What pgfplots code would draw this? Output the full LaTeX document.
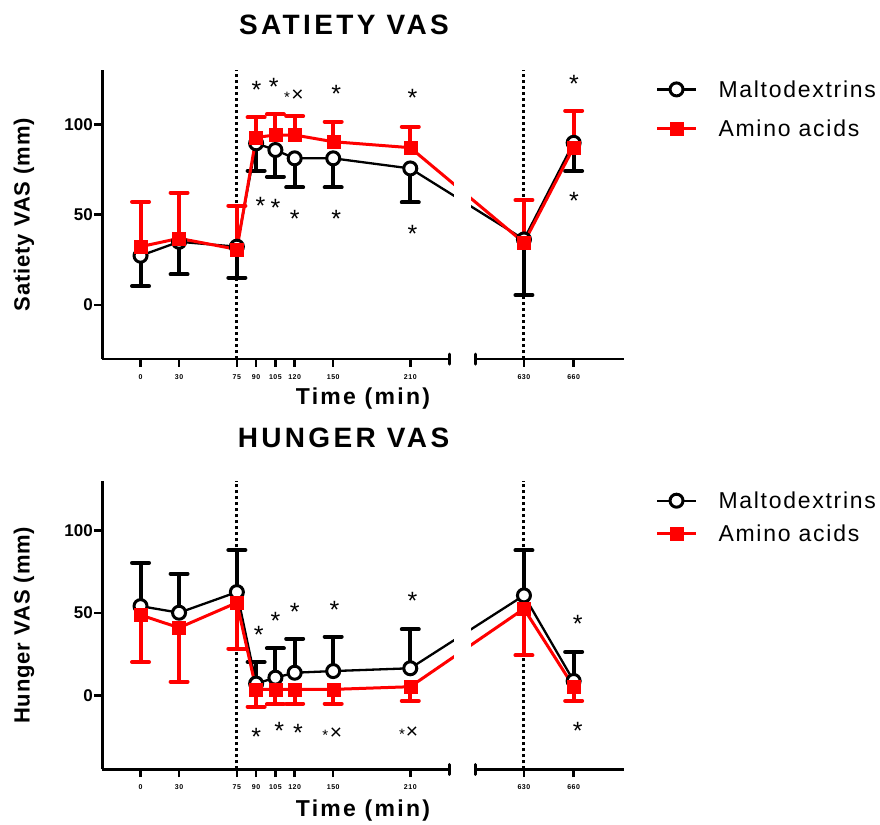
\documentclass[border=0pt]{standalone}
\usepackage{pgfplots}
\pgfplotsset{compat=1.18}
\usepackage{pgfplotstable}
\usepackage{fontspec}
\setmainfont{Liberation Sans}
\newfontfamily\titlefont[LetterSpace=12]{Liberation Sans}
\newfontfamily\xlabfont[LetterSpace=10]{Liberation Sans}
\newfontfamily\legfont[LetterSpace=7.5]{Liberation Sans}
\newfontfamily\tickfont[LetterSpace=8]{Liberation Sans}
\newfontfamily\ylabfont[LetterSpace=4]{Liberation Sans}
\newfontfamily\starfont{Liberation Sans}

% t = time (min), m = mean, e = error (one-sided)
\pgfplotstableread{
t m e
0 27.3 16.8
30 35.0 18.0
75 32.3 17.2
90 89.5 15.2
105 85.8 14.8
120 81.2 16.1
150 81.2 16.1
210 75.6 18.8
630 36.3 30.8
660 89.8 15.6
}\satmalto
\pgfplotstableread{
t m e
0 32.3 24.9
30 36.9 25.3
75 30.8 24.2
90 92.8 11.1
105 94.1 11.4
120 94.1 10.5
150 90.4 11.1
210 87.1 11.6
630 34.5 23.6
660 87.3 20.2
}\satamino
\pgfplotstableread{
t m e
0 54.1 26.3
30 50.1 23.6
75 62.6 25.5
90 7.1 13.1
105 10.7 17.8
120 13.7 20.6
150 14.7 20.9
210 16.4 23.6
630 60.6 27.3
660 8.7 17.6
}\hunmalto
\pgfplotstableread{
t m e
0 48.7 28.5
30 41.0 32.7
75 56.2 27.9
90 3.6 10.5
105 3.6 9.1
120 3.6 8.7
150 3.6 8.7
210 5.2 8.6
630 52.5 28.3
660 5.2 8.6
}\hunamino

\pgfplotsset{
  vasaxis/.style={
    scale only axis, width=522pt,
    xmin=-30, xmax=376.4, ymax=130,
    axis y line*=left, axis x line*=bottom,
    x axis line style={draw=none},
    y axis line style={line width=3pt},
    tick align=outside, major tick length=7.5pt,
    xtick={0,30,75,90,105,120,150,210,298.5,337.2},
    xticklabels={0,30,75,90,105,120,150,210,630,660},
    ytick={0,50,100}, yticklabels={0,50,100},
    minor tick num=0,
    xtick style={line width=2.5pt, black},
    ytick style={line width=2.5pt, black},
    /pgf/number format/assume math mode=true,
    xticklabel style={font=\tickfont\bfseries\fontsize{7}{8}\selectfont, yshift=-4pt},
    yticklabel style={font=\bfseries\fontsize{17}{19}\selectfont, inner sep=1.5pt},
    clip=false,
    legend cell align=left,
    legend image code/.code={\draw[mark repeat=2,mark phase=2,##1] plot coordinates {(0pt,0pt) (19.5pt,0pt) (39pt,0pt)};},
  },
  maltostyle/.style={black, line width=2.3pt, mark=*, mark size=6.5pt,
    mark options={fill=white, draw=black, line width=3pt},
    error bars/y explicit,
    error bars/error bar style={line width=4pt, black},
    error bars/error mark options={line width=4pt, mark size=8.5pt, line cap=round, rotate=90, black}},
  aminostyle/.style={red, line width=3pt, mark=square*, mark size=6.5pt,
    mark options={fill=red, draw=red, line width=0.4pt},
    error bars/y explicit,
    error bars/error bar style={line width=4pt, red},
    error bars/error mark options={line width=4pt, mark size=8.5pt, line cap=round, rotate=90, red}},
  dotline/.style={forget plot, black, line width=3pt, dash pattern=on 3pt off 3pt},
}
\newcommand{\st}[2]{\node[font=\starfont\fontsize{25}{25}\selectfont, anchor=base, inner sep=0pt, yshift=-14.4pt] at (axis cs:#1,#2) {*};}
\newcommand{\sst}[2]{\node[font=\starfont\fontsize{15}{15}\selectfont, anchor=base, inner sep=0pt, yshift=-8.6pt] at (axis cs:#1,#2) {*};}
\newcommand{\crs}[2]{\node[font=\starfont\fontsize{21}{21}\selectfont, anchor=base, inner sep=0pt, yshift=-7.6pt] at (axis cs:#1,#2) {×};}
\def\xmap{(\thisrow{t}>400 ? 298.5+1.29*(\thisrow{t}-630) : \thisrow{t})}

\begin{document}
\begin{tikzpicture}
\useasboundingbox (0pt,0pt) rectangle (880pt,824pt);

\node[font=\titlefont\bfseries\fontsize{28}{30}\selectfont, anchor=center] at (344pt,799pt) {SATIETY VAS};
\node[font=\titlefont\bfseries\fontsize{28}{30}\selectfont, anchor=center] at (343.5pt,385.7pt) {HUNGER VAS};

% ---------------- Satiety ----------------
\begin{axis}[vasaxis, at={(102pt,464.8pt)}, anchor=south west, height=289pt, ymin=-30,
  ylabel={Satiety VAS (mm)}, xlabel={Time (min)},
  y label style={at={(axis description cs:-0.1494,0.5)}, anchor=center, font=\ylabfont\bfseries\fontsize{22}{24}\selectfont},
  x label style={at={(axis description cs:0.5,-0.1585)}, anchor=base, font=\xlabfont\bfseries\fontsize{23}{25}\selectfont},
  legend style={draw=none, fill=none, at={(axis description cs:1.06,0.866)}, anchor=west,
    font=\legfont\fontsize{23}{25}\selectfont, row sep=18.5pt, inner sep=0pt,
    nodes={inner sep=2pt, text height=16.5pt, text depth=0pt},
    /tikz/every odd column/.append style={column sep=19pt}},
]
\addplot[dotline] coordinates {(75,-30) (75,130)};
\addplot[dotline] coordinates {(298.5,-30) (298.5,130)};
\addplot[maltostyle, error bars/y dir=minus] table[x expr={\xmap}, y=m, y error=e] {\satmalto};
\addlegendentry{Maltodextrins}
\addplot[aminostyle, error bars/y dir=plus] table[x expr={\xmap}, y=m, y error=e] {\satamino};
\addlegendentry{Amino acids}
\fill[white] (axis cs:243.8,-25) rectangle (axis cs:257.4,125);
\draw[line width=2.5pt] (axis cs:-30,-30) -- (axis cs:240.3,-30);
\draw[line width=2.5pt] (axis cs:260.5,-30) -- (axis cs:376.4,-30);
\draw[line width=3pt, line cap=round] ([yshift=-5pt]axis cs:240.3,-30) -- ([yshift=5pt]axis cs:240.3,-30);
\draw[line width=3pt, line cap=round] ([yshift=-5pt]axis cs:260.5,-30) -- ([yshift=5pt]axis cs:260.5,-30);
% significance marks
\st{90.2}{122.3} \st{103.7}{124.1} \sst{114.1}{116.6} \crs{122.3}{116.6}
\st{152.4}{119.9} \st{211.7}{117.7} \st{337.5}{125.5}
\st{93.3}{58.1} \st{105}{57.2} \st{120}{50.7} \st{152.4}{50.7} \st{211.7}{42.8} \st{337.5}{60.9}
\end{axis}

% ---------------- Hunger ----------------
\begin{axis}[vasaxis, at={(102pt,54.5pt)}, anchor=south west, height=288.5pt, ymin=-45,
  ylabel={Hunger VAS (mm)}, xlabel={Time (min)},
  y label style={at={(axis description cs:-0.1494,0.5)}, anchor=center, font=\ylabfont\bfseries\fontsize{22}{24}\selectfont},
  x label style={at={(axis description cs:0.5,-0.1622)}, anchor=base, font=\xlabfont\bfseries\fontsize{23}{25}\selectfont},
  legend style={draw=none, fill=none, at={(axis description cs:1.06,0.8745)}, anchor=west,
    font=\legfont\fontsize{23}{25}\selectfont, row sep=12.5pt, inner sep=0pt,
    nodes={inner sep=2pt, text height=16.5pt, text depth=0pt},
    /tikz/every odd column/.append style={column sep=19pt}},
]
\addplot[dotline] coordinates {(75,-45) (75,130)};
\addplot[dotline] coordinates {(298.5,-45) (298.5,130)};
\addplot[maltostyle, error bars/y dir=plus] table[x expr={\xmap}, y=m, y error=e] {\hunmalto};
\addlegendentry{Maltodextrins}
\addplot[aminostyle, error bars/y dir=minus] table[x expr={\xmap}, y=m, y error=e] {\hunamino};
\addlegendentry{Amino acids}
\fill[white] (axis cs:243.8,-40) rectangle (axis cs:257.4,125);
\draw[line width=2.5pt] (axis cs:-30,-45) -- (axis cs:240.3,-45);
\draw[line width=2.5pt] (axis cs:260.5,-45) -- (axis cs:376.4,-45);
\draw[line width=3pt, line cap=round] ([yshift=-5pt]axis cs:240.3,-45) -- ([yshift=5pt]axis cs:240.3,-45);
\draw[line width=3pt, line cap=round] ([yshift=-5pt]axis cs:260.5,-45) -- ([yshift=5pt]axis cs:260.5,-45);
\st{92}{40} \st{105}{48.7} \st{120}{54.1} \st{151}{55.2} \st{211.7}{60.6} \st{340.4}{47.1}
\st{90}{-21.6} \st{108}{-18.2} \st{122.6}{-19.2} \sst{143.9}{-22.2} \crs{152.2}{-22.2}
\sst{203.5}{-21.6} \crs{211.3}{-21.6} \st{340.4}{-18}
\end{axis}
\end{tikzpicture}
\end{document}
